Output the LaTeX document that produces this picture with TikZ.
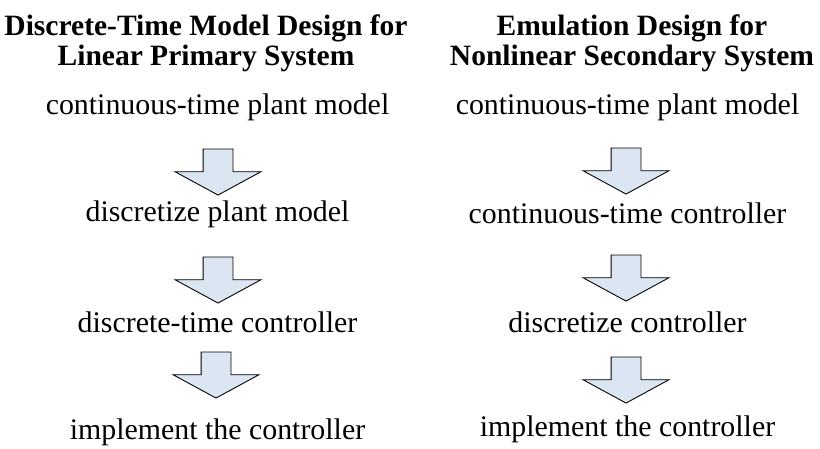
\documentclass[tikz,border=0pt]{standalone}
\usepackage{fontspec}
\setmainfont{Liberation Serif}
\usepackage{tikz}
\usepackage{xcolor}
\usetikzlibrary{shapes,arrows,positioning,calc}
\definecolor{arrow-fill}{RGB}{220, 230, 242}
\tikzstyle{heading}=[align=center,font=\fontsize{16.8}{17.2}\selectfont\bfseries,inner sep=0pt]
\tikzstyle{step-text}=[font=\fontsize{17}{20}\selectfont,inner sep=0pt]
\tikzstyle{down}=[draw,fill=arrow-fill,line width=0.5pt,single arrow,rotate=-90,inner xsep=0pt,inner ysep=0.29cm,minimum height=0.92cm,minimum width=1.7cm,single arrow head extend=0.56cm,single arrow tip angle=123]

\begin{document}
\begin{tikzpicture}
%    \draw[step=1.0,gray,thin] (0,0) grid (16,-9);
    \useasboundingbox (0,0) rectangle (16.4,-8.98);

    % discrete-time design
    \node[heading] at (4.12, -0.86) (headl) {Discrete-Time Model Design for\\Linear Primary System};

    \node[step-text] at (4.35, -2.14) (ctplant) {continuous-time plant model};
    \node[down] at (4.36, -3.36) (downa) {};
    \node[step-text] at (4.35, -4.28) (discplant) {discretize plant model};
    \node[down] at (4.36, -5.52) (downb) {};
    \node[step-text] at (4.35, -6.44) (dtctrl) {discrete-time controller};
    \node[down] at (4.32, -7.42) (downc) {};
    \node[step-text] at (4.35, -8.64) (impl) {implement the controller};

    % emulation design
    \node[heading] at (12.64, -0.86) (headr) {Emulation Design for\\Nonlinear Secondary System};

    \node[step-text] at (12.55, -2.14) (ctplantr) {continuous-time plant model};
    \node[down] at (12.52, -3.34) (downd) {};
    \node[step-text] at (12.55, -4.26) (ctctrl) {continuous-time controller};
    \node[down] at (12.52, -5.48) (downe) {};
    \node[step-text] at (12.55, -6.44) (discctrl) {discretize controller};
    \node[down] at (12.52, -7.52) (downf) {};
    \node[step-text] at (12.55, -8.58) (implr) {implement the controller};
\end{tikzpicture}
\end{document}
